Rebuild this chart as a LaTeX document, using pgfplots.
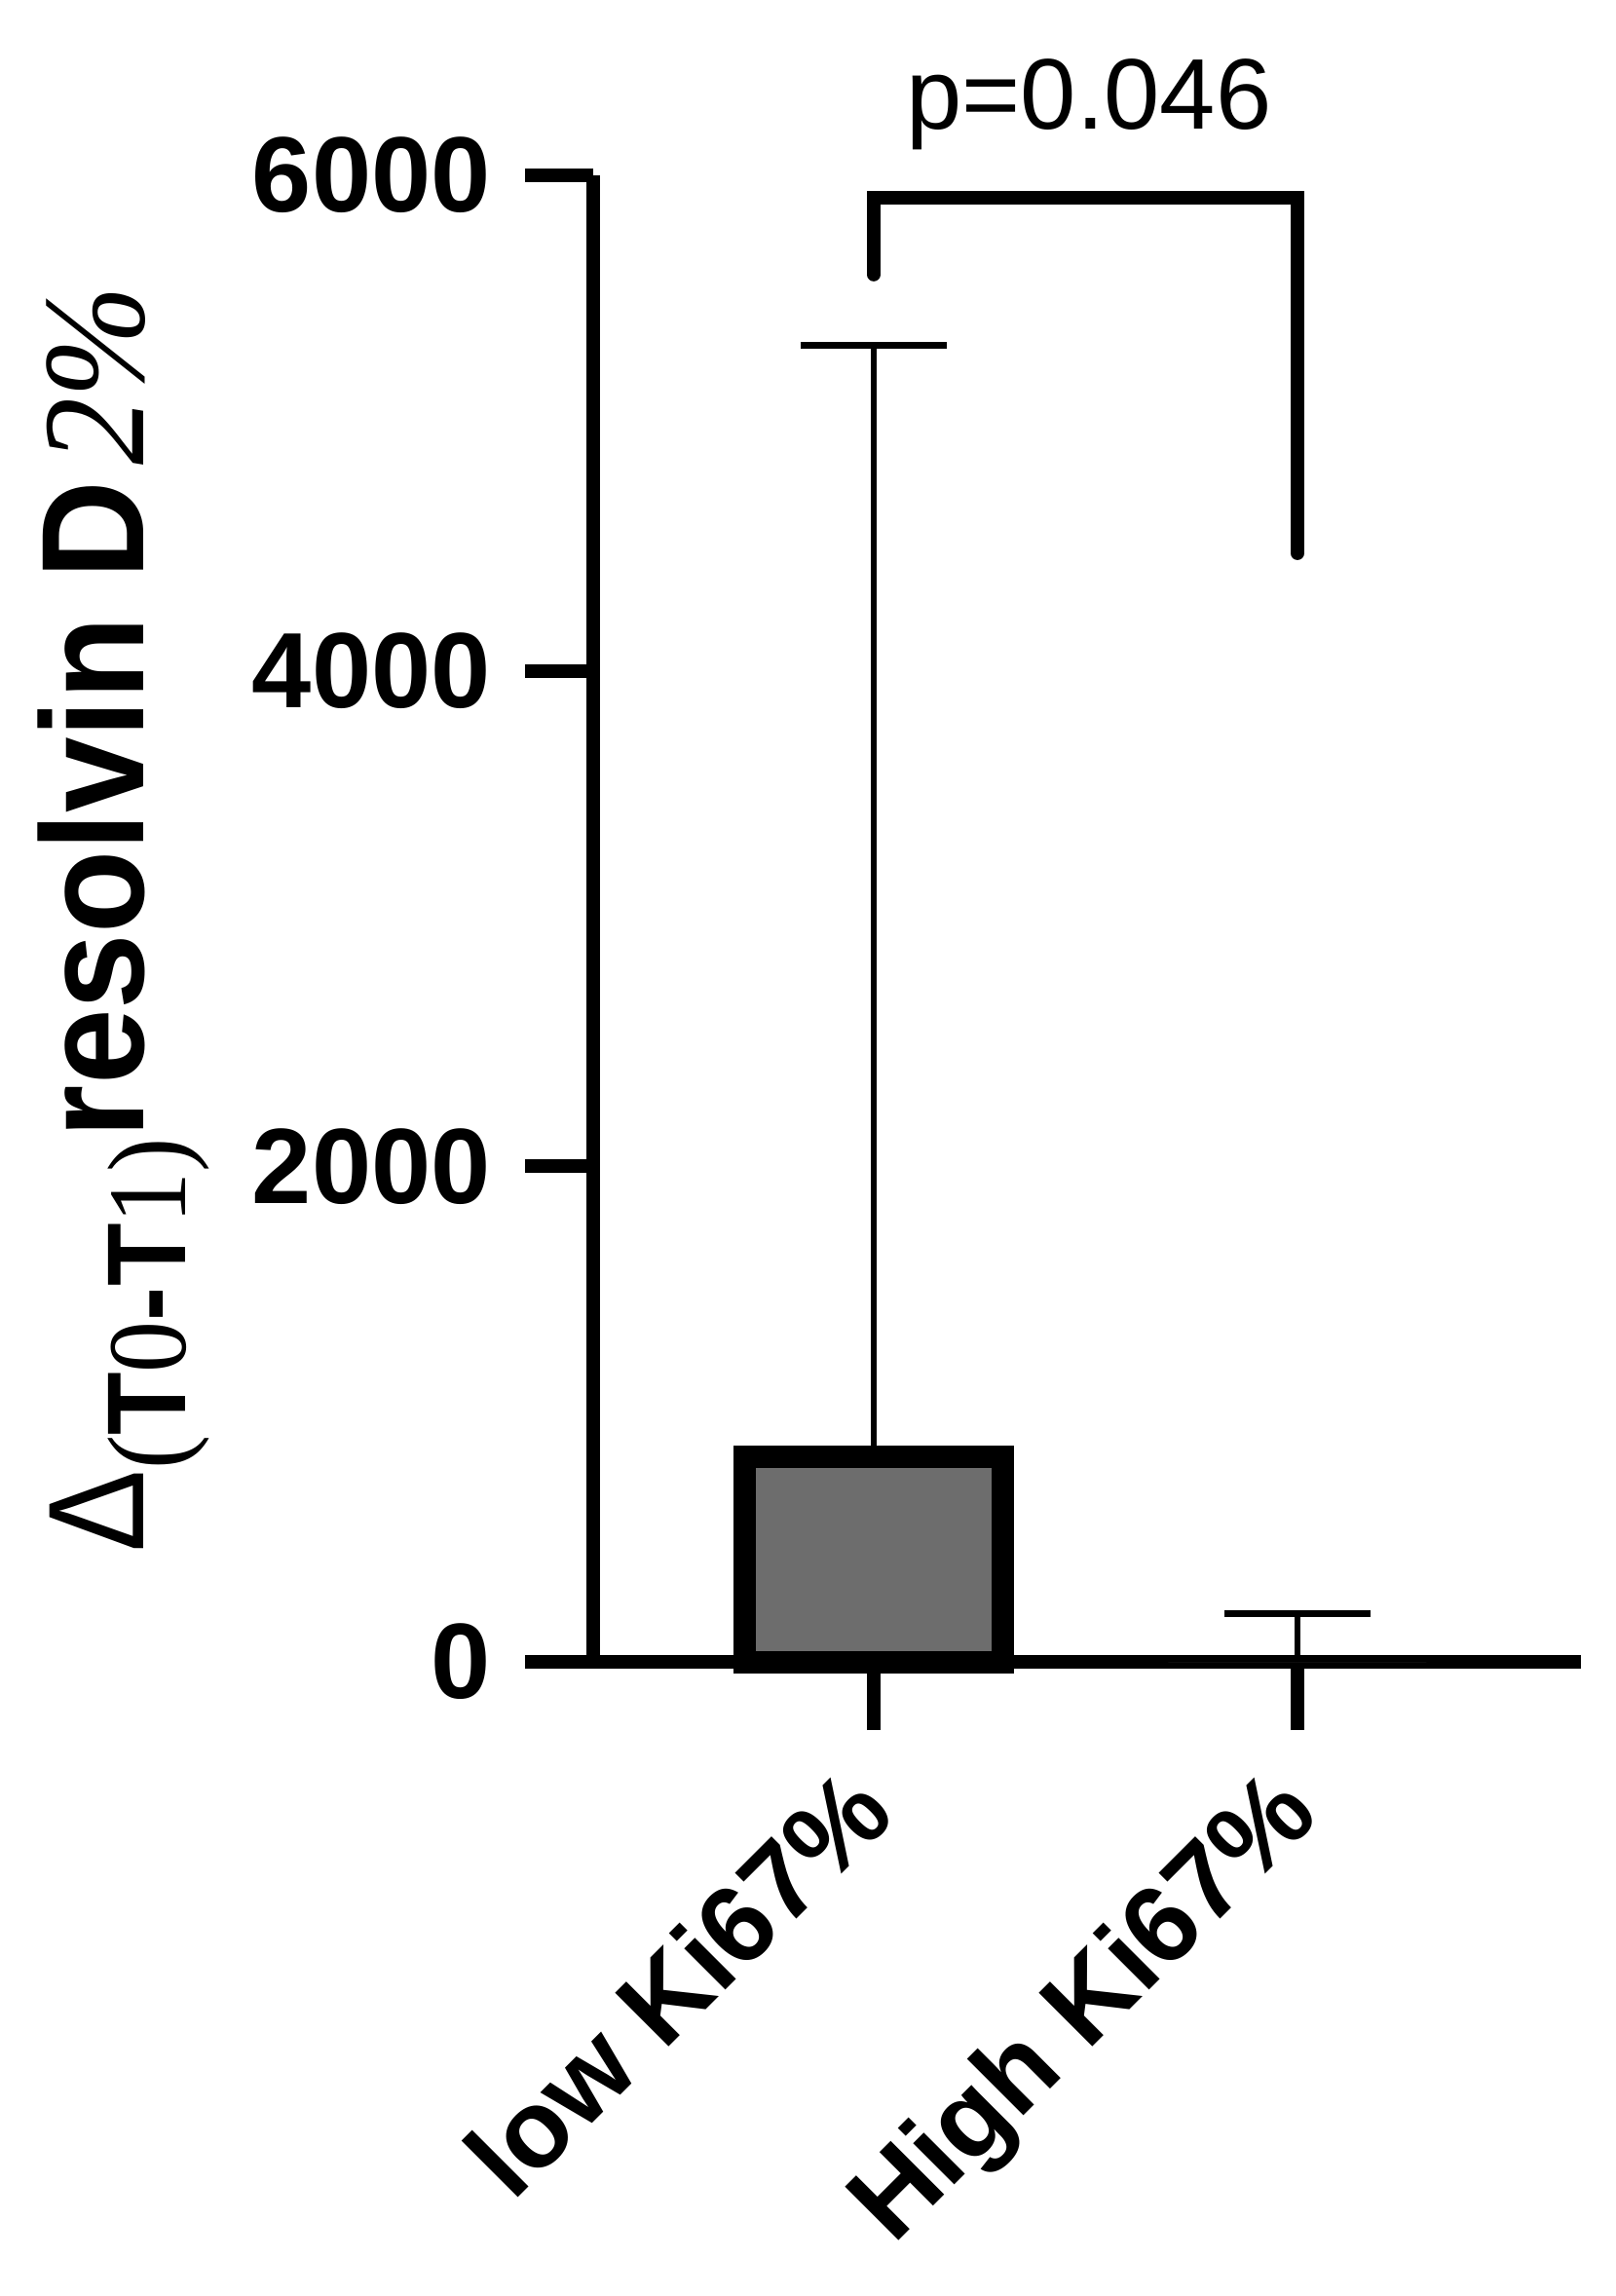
\documentclass[border=0pt]{standalone}
\usepackage{pgfplots}
\pgfplotsset{compat=1.18}
\usepackage{fontspec}
\setmainfont{Liberation Sans}
\setsansfont{Liberation Sans}
\newfontfamily\serif{Liberation Serif}
\definecolor{bargray}{HTML}{6D6D6D}
% y label pieces
\newcommand{\dlt}{\scalebox{0.9}[1]{\fontsize{14}{15}\selectfont Δ}}
\newcommand{\sub}{\raisebox{-4.3pt}{\scalebox{0.92}[1]{\fontsize{11.5}{13}\selectfont{\serif(}\textbf{T}{\serif 0}\textbf{-T}{\serif 1}{\serif)}}}}
\newcommand{\main}{\scalebox{0.93}[1]{\fontsize{15}{16}\selectfont\bfseries resolvin D}}
\newcommand{\pct}{\scalebox{0.92}[1]{\fontsize{15}{16}\selectfont\serif\itshape 2\%}}

\begin{document}
\begin{tikzpicture}
\begin{axis}[
    width=101.4pt, height=152.6pt, scale only axis,
    xmin=-0.662, xmax=1.669, ymin=0, ymax=6000,
    axis x line=bottom, axis y line=left,
    axis line style={line width=1.4pt, -},
    tick align=outside, major tick length=7pt,
    tick style={line width=1.4pt, black},
    xtick={0,1}, xticklabels={low Ki67\%, High Ki67\%},
    ytick={0,2000,4000,6000},
    scaled y ticks=false,
    /pgf/number format/assume math mode=true,
    /pgf/number format/1000 sep={},
    yticklabel style={font=\fontsize{11}{12}\selectfont\bfseries},
    xticklabel style={xshift=2.6pt, yshift=-8.9pt, rotate=45, anchor=base east,
        inner sep=0pt, font=\fontsize{11.3}{13}\selectfont\bfseries},
    ybar, bar width=26.5pt,
    clip=false,
    ylabel={\dlt\sub\main\,\pct},
    ylabel style={at={(axis description cs:-0.4556,0.5)}, anchor=base},
]
\addplot[bar shift=0pt, fill=bargray, draw=black, line width=2.3pt,
    error bars/.cd, y dir=plus, y explicit,
    error bar style={line width=0.6pt, black},
    error mark options={rotate=90, mark size=7.5pt, line width=0.7pt, black}]
    coordinates {(0,826) +- (0,4487)};
\addplot[bar shift=0pt, fill=bargray, draw=none,
    error bars/.cd, y dir=plus, y explicit,
    error bar style={line width=0.6pt, black},
    error mark options={rotate=90, mark size=7.5pt, line width=0.7pt, black}]
    coordinates {(1,0) +- (0,195)};
\draw[line width=1.4pt, line cap=round, line join=miter]
    (axis cs:0,5600) -- (axis cs:0,5910) -- (axis cs:1,5910) -- (axis cs:1,4475);
\node[anchor=base, font=\fontsize{10.3}{12}\selectfont] at (axis cs:0.508,6186) {p=0.046};
\end{axis}
\path (-60.9pt,-65.1pt) rectangle (105pt,170.6pt);
\end{tikzpicture}
\end{document}
